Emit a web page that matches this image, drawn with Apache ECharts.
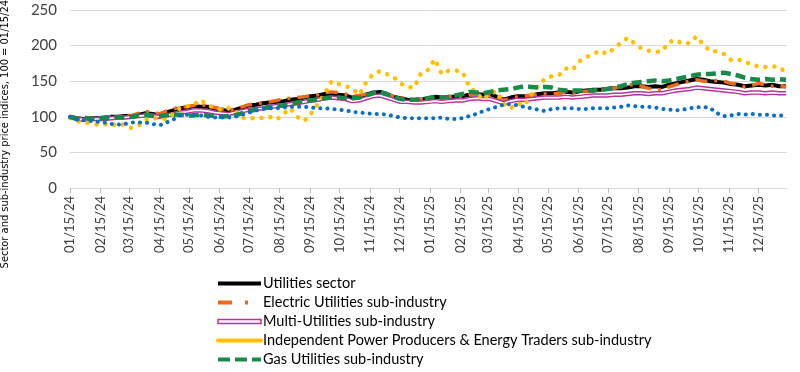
<!DOCTYPE html>
<html><head><meta charset="utf-8">
<script src="https://cdn.jsdelivr.net/npm/echarts@6/dist/echarts.min.js"></script>
<style>html,body{margin:0;padding:0;background:#fff}#c{width:800px;height:372px}</style>
</head><body><div id="c"></div>
<script>
// ---- data (weekly samples starting 01/15/24) ----
const firstDay = [2024, 0, 15];
const lastDay = [2026, 0, 13];
const sampleStepDays = 7;
const yTicks = [0, 50, 100, 150, 200, 250];
const legendNames = ['Utilities sector','Electric Utilities sub-industry','Multi-Utilities sub-industry','Independent Power Producers & Energy Traders sub-industry','Gas Utilities sub-industry'];
const yAxisTitle = 'Sector and sub-industry price indices, 100 = 01/15/24';

const utilitiesSector = [100,98,97,98,98,99,100,100,101,101,103,105,104,102,106,109,112,113,115,114,114,112,110,108,110,113,116,117,119,120,121,122,124,125,127,129,130,132,132,131,130,127,128,131,134,135,132,128,126,124,123,124,126,128,127,128,128,129,131,132,131,132,128,124,127,129,129,130,132,133,133,134,135,134,136,137,138,138,139,140,140,141,143,143,142,143,142,145,147,149,151,153,152,150,149,148,146,145,143,144,145,144,145,143,143];
const electricUtilities = [100,98,97,98,98,99,100,100,102,102,105,107,107,104,108,111,114,114,116,117,116,113,111,109,111,114,117,118,120,121,123,125,126,127,128,130,131,134,135,134,132,129,130,132,134,135,131,129,127,125,124,125,126,127,127,128,128,129,131,131,130,131,127,123,126,128,129,130,132,132,132,133,134,133,135,136,136,137,138,140,142,144,146,143,140,138,138,142,145,148,150,152,150,150,151,150,147,145,142,144,147,145,143,144,142];
const multiUtilities = [100,97,96,97,97,97,98,99,99,100,101,102,101,100,102,104,106,107,109,109,108,106,105,104,106,108,110,111,112,114,115,116,118,119,121,123,124,126,127,126,125,122,123,126,129,130,127,124,121,121,120,120,121,122,121,122,123,123,125,126,125,125,122,119,122,124,124,125,126,127,127,127,128,127,128,129,130,130,130,131,131,132,133,133,132,133,133,135,137,138,139,141,140,139,138,137,136,135,133,134,134,133,134,133,133];
const ippTraders = [98,94,92,91,89,90,87,91,88,84,88,96,98,98,97,104,113,115,117,124,116,113,110,112,108,99,97,99,98,100,96,104,112,100,94,104,118,132,150,146,143,140,131,148,160,164,160,156,147,142,141,162,166,181,160,165,165,163,142,134,124,133,136,118,112,119,116,131,143,154,157,158,168,166,178,184,188,193,188,196,204,211,203,196,193,191,192,205,208,202,204,213,201,192,192,188,180,181,176,175,170,170,171,170,162];
const gasUtilities = [100,97,99,97,98,98,99,99,99,100,102,103,102,101,102,103,103,102,102,103,102,101,100,101,102,105,108,110,112,113,115,116,118,120,122,123,124,126,127,127,126,126,127,130,133,135,132,128,125,124,124,125,126,128,127,128,130,132,135,134,133,135,137,138,139,141,143,142,141,142,141,138,137,137,137,137,137,138,139,141,143,146,148,149,150,151,150,151,153,155,157,159,160,160,161,162,160,158,155,153,152,153,152,153,152];
const waterUtilities = [100,96,95,94,93,92,90,89,90,92,92,92,90,88,92,96,102,103,103,102,100,99,99,99,100,103,106,109,111,112,112,113,114,114,114,113,112,112,111,110,109,107,106,105,104,104,103,101,99,98,98,98,98,98,99,97,97,98,101,104,108,111,114,117,118,116,114,112,110,108,111,112,112,112,111,111,112,112,112,113,114,116,115,114,114,113,111,110,109,110,112,113,114,112,105,101,102,104,103,104,103,103,102,102,101];

// ---- axis categories: every calendar day ----
function fmt(d){
  const m = String(d.getUTCMonth()+1).padStart(2,'0');
  const dd = String(d.getUTCDate()).padStart(2,'0');
  const yy = String(d.getUTCFullYear()).slice(2);
  return m + '/' + dd + '/' + yy;
}
const categories = [];
for (let t = Date.UTC(...firstDay); t <= Date.UTC(...lastDay); t += 86400000) categories.push(fmt(new Date(t)));
const isMid = (idx, val) => val.slice(3,5) === '15';
const pairs = arr => arr.map((v, i) => [i * sampleStepDays, v]);

const chart = echarts.init(document.getElementById('c'), null, {renderer:'canvas'});
const FONT = 'Lato, "Open Sans", sans-serif';
function ln(name, data, color, width, type, cap){
  return {
    name, type:'line', data: pairs(data), symbol:'none', showSymbol:false, smooth:false,
    lineStyle:{color, width, type, cap: cap || 'butt', join:'round'}, itemStyle:{color}, emphasis:{disabled:true}
  };
}
const C = {black:'#000000', orange:'#EE6A1F', magenta:'#B5339F', yellow:'#FFC000', green:'#1A8A4A', blue:'#0A6FC2'};

chart.setOption({
  animation:false,
  backgroundColor:'#fff',
  grid:{left:70, right:13, top:10, bottom:184, containLabel:false},
  xAxis:{
    type:'category', data:categories, boundaryGap:false,
    axisLine:{show:true, lineStyle:{color:'#D9D9D9', width:1}},
    axisTick:{show:true, interval:isMid, length:5, lineStyle:{color:'#BFBFBF'}},
    axisLabel:{interval:isMid, rotate:90, margin:8, fontFamily:FONT, fontSize:13, color:'#404040'},
    splitLine:{show:false}
  },
  yAxis:{
    type:'value', min:yTicks[0], max:yTicks[yTicks.length-1], interval:50,
    axisLine:{show:false}, axisTick:{show:false},
    axisLabel:{margin:13, fontFamily:FONT, fontSize:15, color:'#404040'},
    splitLine:{lineStyle:{color:'#D9D9D9', width:1}}
  },
  legend:{
    orient:'vertical', left:211, top:271, itemWidth:43, itemHeight:4, itemGap:4,
    height:110,
    itemStyle:{opacity:0},
    textStyle:{fontFamily:FONT, fontSize:14.5, lineHeight:15, color:'#000', padding:[0,0,0,-3]},
    data:[
      {name:legendNames[0], lineStyle:{width:4, type:'solid'}},
      {name:legendNames[1], lineStyle:{width:4, type:[14,13,3,20]}},
      {name:legendNames[2], icon:'path://M0,0H44V4H0Z', itemStyle:{opacity:1, color:'#fff', borderColor:C.magenta, borderWidth:1.5}},
      {name:legendNames[3], lineStyle:{width:4, type:'solid'}},
      {name:legendNames[4], lineStyle:{width:4, type:[12,5]}}
    ]
  },
  graphic:[{
    type:'text', left:0, top:0, x:9, y:141, rotation:Math.PI/2,
    style:{text:yAxisTitle, fontFamily:'"Liberation Sans Narrow", "DejaVu Sans Condensed", sans-serif', fontSize:11, fill:'#000', align:'center', verticalAlign:'middle'}
  }],
  series:[
    ln(legendNames[0], utilitiesSector, C.black, 4, 'solid'),
    ln(legendNames[1], electricUtilities, C.orange, 3.5, [12,7,3,7]),
    ln(legendNames[2], multiUtilities, C.magenta, 4.5, 'solid'),
    ln('Multi-Utilities inner', multiUtilities, '#ffffff', 1.6, 'solid'),
    ln(legendNames[3], ippTraders, C.yellow, 4.5, [0.1,9], 'round'),
    ln(legendNames[4], gasUtilities, C.green, 4.5, [10,5]),
    ln('Water Utilities sub-industry', waterUtilities, C.blue, 4, [0.1,7], 'round')
  ]
});
</script></body></html>
